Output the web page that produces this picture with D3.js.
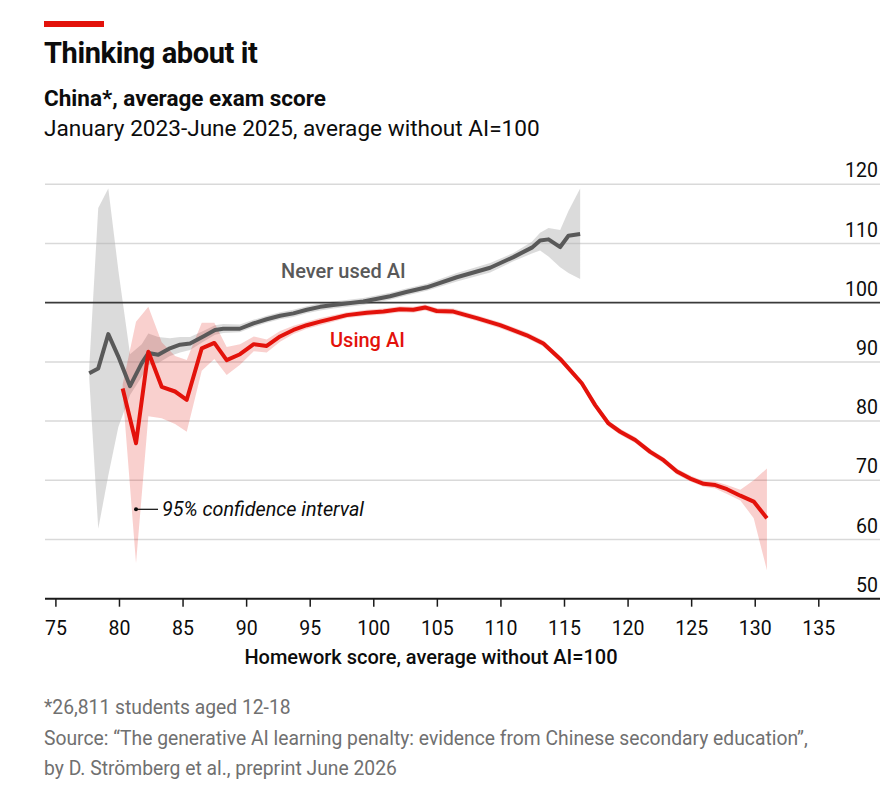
<!DOCTYPE html>
<html>
<head>
<meta charset="utf-8">
<script src="https://cdn.jsdelivr.net/npm/d3@7"></script>
<style>
  body { margin: 0; background: #fff; }
  svg text { font-family: Roboto, "Noto Sans", sans-serif; }
</style>
</head>
<body>
<svg id="chart" width="896" height="808"></svg>
<script>
var xTicks = [75, 80, 85, 90, 95, 100, 105, 110, 115, 120, 125, 130, 135];
var yTicks = [50, 60, 70, 80, 90, 100, 110, 120];

// Never used AI
var neverX = [77.66, 78.37, 79.16, 79.95, 80.87, 81.79, 82.31, 83.09, 84.01, 84.8, 85.59, 86.63, 87.55, 88.2, 89.5,
  90.57, 91.62, 92.67, 93.72, 94.77, 95.82, 96.86, 99.22, 101.32, 102.6, 104.21, 106.57, 109.19, 111.02,
  112.47, 113.12, 113.78, 114.7, 115.35, 116.27];
var neverScore = [88.1, 88.9, 94.7, 90.9, 85.9, 89.8, 91.5, 91.2, 92.3, 92.9, 93.1, 94.3, 95.4, 95.6, 95.6,
  96.5, 97.2, 97.8, 98.2, 98.8, 99.3, 99.6, 100.2, 101.1, 101.8, 102.6, 104.3, 105.9, 107.7,
  109.3, 110.5, 110.7, 109.4, 111.3, 111.6];
var neverLow = [87.3, 61.8, 70.8, 79.0, 84.4, 87.5, 89.5, 89.8, 91.0, 91.6, 92.0, 93.4, 94.6, 94.9, 95.0,
  95.9, 96.6, 97.2, 97.6, 98.2, 98.7, 99.0, 99.6, 100.5, 101.2, 102.0, 103.6, 105.1, 107.0,
  108.3, 108.8, 107.8, 106.0, 105.0, 104.0];
var neverHigh = [89.0, 116.0, 119.3, 105.5, 91.3, 93.0, 94.8, 94.2, 94.0, 94.2, 94.2, 95.2, 96.2, 96.4, 96.3,
  97.1, 97.8, 98.4, 98.8, 99.4, 99.9, 100.2, 100.8, 101.7, 102.4, 103.2, 105.0, 106.7, 108.4,
  110.3, 111.8, 112.6, 112.3, 115.5, 119.3];

// Using AI
var usingX = [80.29, 81.34, 82.31, 83.36, 84.41, 85.33, 86.51, 87.5, 88.47, 89.52, 90.6, 91.62, 92.67, 93.72,
  94.77, 95.82, 97.92, 99.5, 100.8, 102.1, 103.15, 104.07, 104.99, 106.3, 108.14, 109.97, 112.07, 113.38,
  114.7, 116.4, 117.45, 118.5, 119.42, 120.6, 121.78, 122.83, 123.88, 124.93, 125.98, 126.9, 127.82,
  128.87, 129.92, 130.96];
var usingScore = [85.5, 76.25, 91.7, 85.8, 85.0, 83.6, 92.3, 93.2, 90.3, 91.3, 93.0, 92.7, 94.3, 95.4,
  96.2, 96.8, 97.9, 98.3, 98.5, 98.9, 98.8, 99.2, 98.6, 98.5, 97.4, 96.2, 94.5, 93.1,
  90.5, 86.4, 82.7, 79.6, 78.2, 76.8, 74.8, 73.4, 71.5, 70.3, 69.4, 69.2, 68.5,
  67.4, 66.4, 63.6];
var usingLow = [84.8, 56.0, 80.8, 80.5, 79.5, 78.2, 88.5, 90.5, 87.8, 89.5, 91.8, 91.6, 93.4, 94.7,
  95.6, 96.2, 97.4, 97.8, 98.0, 98.4, 98.3, 98.7, 98.1, 98.0, 96.9, 95.7, 94.0, 92.6,
  90.0, 85.9, 82.2, 79.1, 77.7, 76.3, 74.3, 72.9, 71.0, 69.8, 68.9, 68.6, 67.7,
  66.6, 63.6, 54.8];
var usingHigh = [86.2, 96.8, 99.3, 93.3, 91.0, 90.3, 96.6, 96.6, 92.5, 93.0, 94.3, 93.8, 95.2, 96.1,
  96.8, 97.4, 98.4, 98.8, 99.0, 99.4, 99.3, 99.7, 99.1, 99.0, 97.9, 96.7, 95.0, 93.6,
  91.0, 86.9, 83.2, 80.1, 78.7, 77.3, 75.3, 73.9, 72.0, 70.8, 69.9, 69.8, 69.2,
  68.4, 70.0, 72.0];

var RED = '#e3120b';
var GREY = '#595959';

function zipSeries(xs, score, low, high) {
  return xs.map(function(v, i) {
    return { x: v, score: score[i], low: low[i], high: high[i] };
  });
}

var never = zipSeries(neverX, neverScore, neverLow, neverHigh);
var using = zipSeries(usingX, usingScore, usingLow, usingHigh);

var svg = d3.select('#chart');
var x = d3.scaleLinear().domain([75, 135]).range([55.4, 818.3]);
var y = d3.scaleLinear().domain([50, 120]).range([598.7, 184.3]);
var left = 45, right = 880;

// header
svg.append('rect').attr('x', 44).attr('y', 21).attr('width', 60).attr('height', 6).attr('fill', RED);
svg.append('text').attr('x', 44).attr('y', 63)
  .attr('font-size', 29).attr('font-weight', 700).attr('letter-spacing', -0.4).attr('fill', '#0c0c0c')
  .text('Thinking about it');
svg.append('text').attr('x', 44).attr('y', 106)
  .attr('font-size', 22.5).attr('font-weight', 700).attr('fill', '#0c0c0c')
  .text('China*, average exam score');
svg.append('text').attr('x', 44).attr('y', 136)
  .attr('font-size', 22.6).attr('fill', '#0c0c0c')
  .text('January 2023-June 2025, average without AI=100');

// gridlines
svg.append('g').selectAll('line').data(yTicks.filter(function(t) { return t != 50 && t != 100; }))
  .enter().append('line')
    .attr('x1', left).attr('x2', right)
    .attr('y1', function(d) { return y(d); }).attr('y2', function(d) { return y(d); })
    .attr('stroke', '#d9d9d9').attr('stroke-width', 1.5);

var yAxis = svg.append('g')
  .attr('transform', 'translate(' + right + ',0)')
  .call(d3.axisLeft(y).tickValues(yTicks).tickSize(0).tickPadding(2));
yAxis.select('.domain').remove();
yAxis.selectAll('text')
  .attr('dy', '-0.38em')
  .attr('font-size', 19.5).attr('font-family', 'Roboto, sans-serif').attr('fill', '#0c0c0c');

// confidence bands
var band = d3.area()
  .x(function(d) { return x(d.x); })
  .y0(function(d) { return y(d.low); })
  .y1(function(d) { return y(d.high); });

svg.append('path').datum(never).attr('d', band)
  .attr('fill', '#b0b0b0').attr('fill-opacity', 0.45);
svg.append('path').datum(using).attr('d', band)
  .attr('fill', RED).attr('fill-opacity', 0.2);

// baseline at 100
svg.append('line')
  .attr('x1', left).attr('x2', right).attr('y1', y(100)).attr('y2', y(100))
  .attr('stroke', '#3a3a3a').attr('stroke-width', 1.8);

var line = d3.line()
  .x(function(d) { return x(d.x); })
  .y(function(d) { return y(d.score); });

svg.append('path').datum(never).attr('d', line)
  .attr('fill', 'none').attr('stroke', GREY).attr('stroke-width', 4).attr('stroke-linejoin', 'round');
svg.append('path').datum(using).attr('d', line)
  .attr('fill', 'none').attr('stroke', RED).attr('stroke-width', 4).attr('stroke-linejoin', 'round');

// x axis
var xAxis = svg.append('g')
  .attr('transform', 'translate(0,' + y(50) + ')')
  .call(d3.axisBottom(x).tickValues(xTicks).tickSize(8).tickPadding(0));
xAxis.select('.domain').remove();
xAxis.selectAll('line').attr('stroke', '#1a1a1a').attr('stroke-width', 1.5);
xAxis.selectAll('text')
  .attr('y', 22).attr('dy', '0.71em')
  .attr('font-size', 19.5).attr('font-family', 'Roboto, sans-serif').attr('fill', '#0c0c0c');
svg.append('line')
  .attr('x1', left).attr('x2', right).attr('y1', y(50)).attr('y2', y(50))
  .attr('stroke', '#1a1a1a').attr('stroke-width', 2);

svg.append('text').attr('x', 431).attr('y', 664).attr('text-anchor', 'middle')
  .attr('font-size', 20).attr('font-weight', 500).attr('fill', '#0c0c0c')
  .text('Homework score, average without AI=100');

// labels
svg.append('text').attr('x', 281).attr('y', 278)
  .attr('font-size', 20).attr('font-weight', 500).attr('fill', GREY)
  .text('Never used AI');
svg.append('text').attr('x', 330).attr('y', 347)
  .attr('font-size', 20).attr('font-weight', 500).attr('fill', RED)
  .text('Using AI');

var noteX = x(81.34), noteY = y(65.1);
svg.append('circle').attr('cx', noteX).attr('cy', noteY).attr('r', 2).attr('fill', '#0c0c0c');
svg.append('line').attr('x1', noteX).attr('x2', noteX + 22).attr('y1', noteY).attr('y2', noteY)
  .attr('stroke', '#0c0c0c').attr('stroke-width', 1.2);
svg.append('text').attr('x', noteX + 26).attr('y', noteY + 7)
  .attr('font-size', 19.8).attr('font-style', 'italic').attr('fill', '#0c0c0c')
  .text('95% confidence interval');

// footnotes
var notes = [
  '*26,811 students aged 12-18',
  'Source: \u201cThe generative AI learning penalty: evidence from Chinese secondary education\u201d,',
  'by D. Str\u00f6mberg et al., preprint June 2026'
];
svg.append('g').selectAll('text').data(notes).enter().append('text')
  .attr('x', 44).attr('y', function(d, i) { return 714 + i * 30.5; })
  .attr('font-size', 19.3).attr('fill', '#707070')
  .text(function(d) { return d; });
</script>
</body>
</html>
